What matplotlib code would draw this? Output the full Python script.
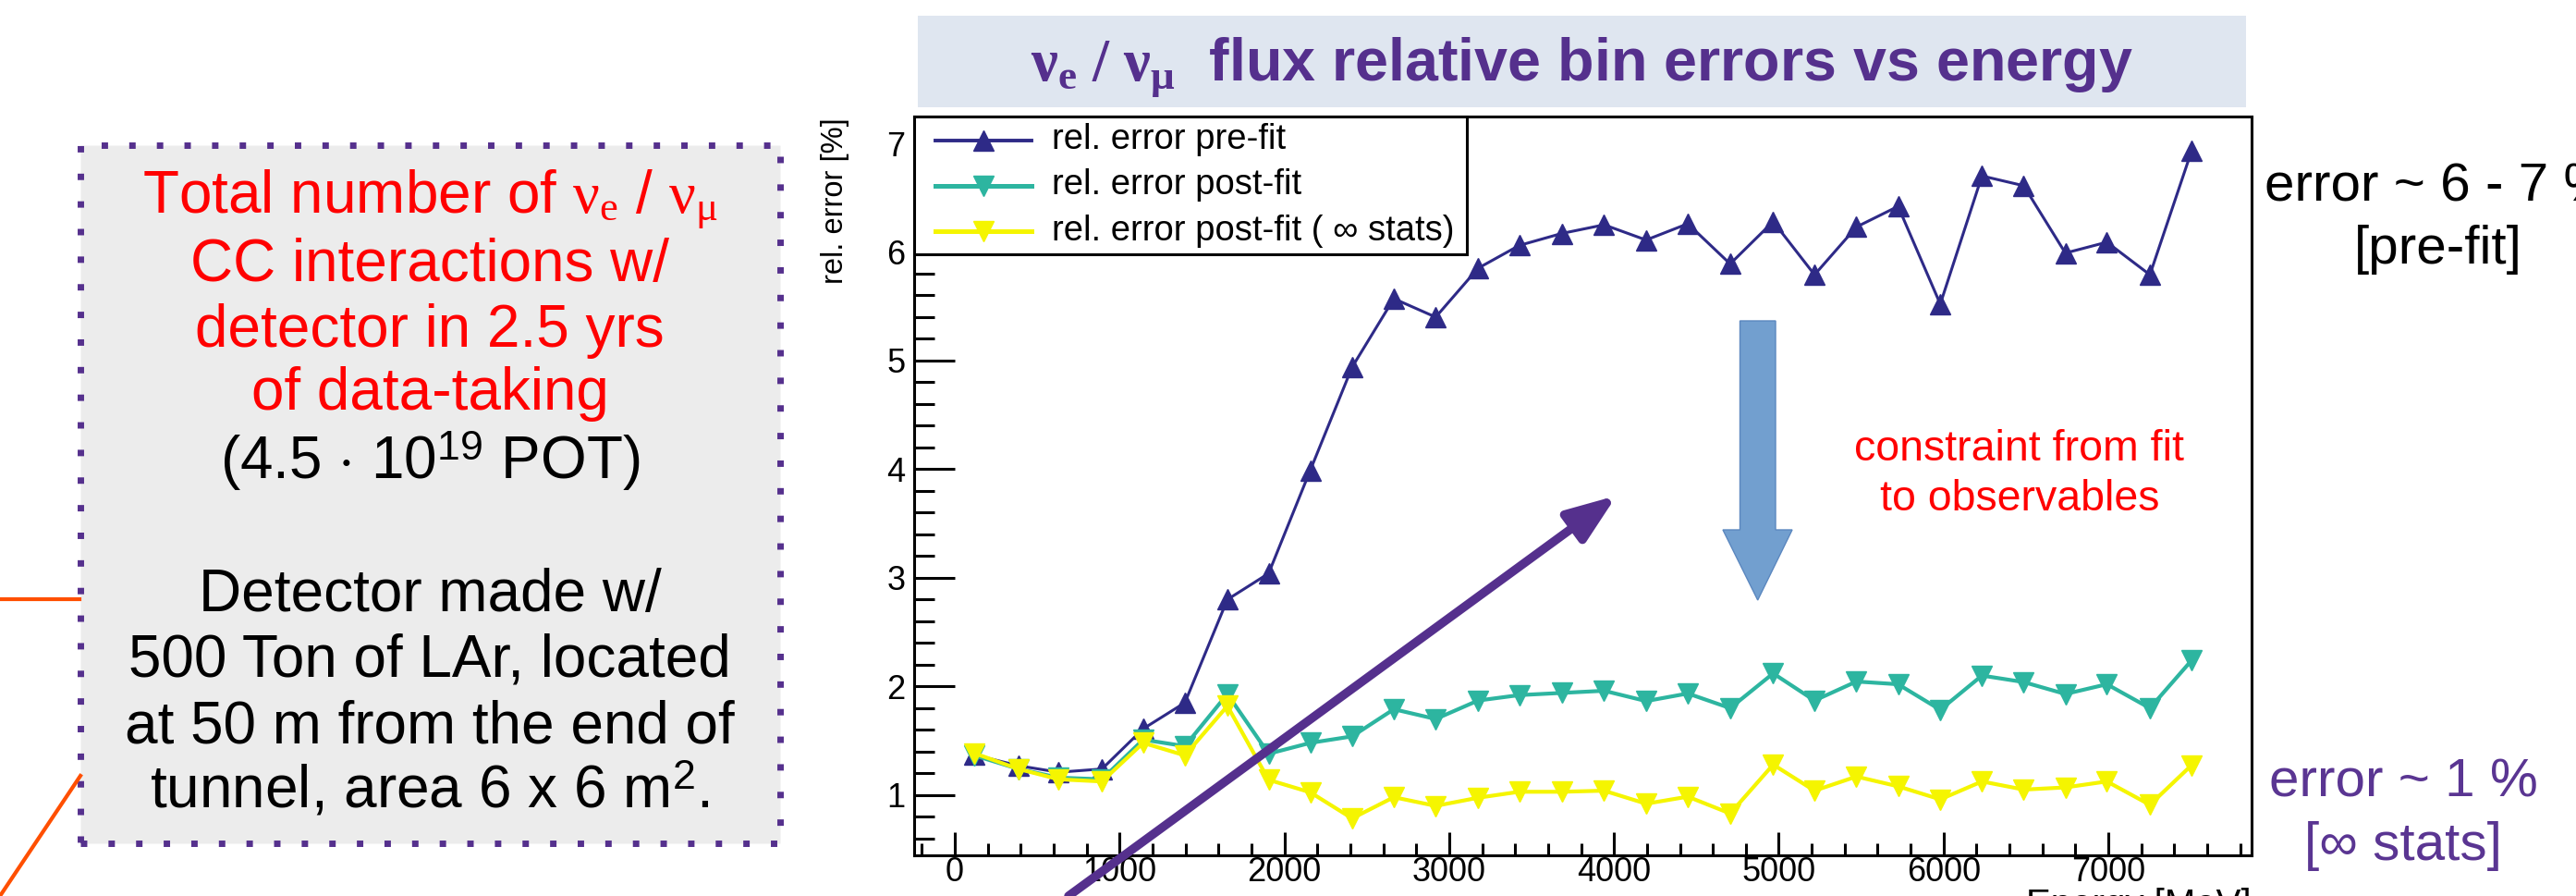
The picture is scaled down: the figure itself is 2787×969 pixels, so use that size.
import matplotlib
matplotlib.use('Agg')
import matplotlib.pyplot as plt
from matplotlib.patches import Rectangle, Polygon, FancyArrowPatch
from matplotlib.lines import Line2D
from matplotlib.ticker import MultipleLocator

plt.rcParams['font.family'] = ['Liberation Sans', 'DejaVu Sans']
plt.rcParams['mathtext.fontset'] = 'custom'
plt.rcParams['mathtext.rm'] = 'Liberation Serif'
plt.rcParams['mathtext.it'] = 'Liberation Serif:italic'
plt.rcParams['mathtext.bf'] = 'Liberation Serif:bold'
plt.rcParams['mathtext.sf'] = 'Liberation Sans'

# bin centres [MeV] and relative errors [%]
energy = [118, 386, 630, 893, 1143, 1396, 1654, 1904, 2157, 2411, 2664, 2918, 3175, 3425, 3682,
          3940, 4195, 4448, 4705, 4966, 5217, 5471, 5724, 5980, 6233, 6486, 6739, 6991, 7252, 7505]
err_prefit = [1.37, 1.27, 1.21, 1.24, 1.61, 1.85, 2.80, 3.04, 3.99, 4.94, 5.57, 5.40, 5.85, 6.06, 6.17,
              6.25, 6.11, 6.26, 5.89, 6.28, 5.79, 6.23, 6.42, 5.52, 6.70, 6.61, 5.99, 6.09, 5.79, 6.93]
err_postfit = [1.365, 1.24, 1.16, 1.145, 1.51, 1.45, 1.93, 1.38, 1.48, 1.54, 1.79, 1.70, 1.87, 1.92, 1.94,
               1.96, 1.865, 1.935, 1.80, 2.12, 1.87, 2.045, 2.02, 1.785, 2.10, 2.04, 1.93, 2.02, 1.80, 2.24]
err_postfit_inf = [1.385, 1.24, 1.145, 1.125, 1.48, 1.365, 1.82, 1.14, 1.025, 0.785, 0.98, 0.90, 0.975, 1.03, 1.03,
                   1.04, 0.92, 0.985, 0.83, 1.28, 1.04, 1.17, 1.08, 0.96, 1.125, 1.05, 1.07, 1.125, 0.91, 1.275]

series_labels = ['rel. error pre-fit', 'rel. error post-fit', 'rel. error post-fit ( \u221e stats)']

W, H = 2787, 969
fig = plt.figure(figsize=(W / 100, H / 100), dpi=100)
fig.patch.set_facecolor('white')


# pixel (from top-left) -> figure fraction
def fx(px):
    return px / W


def fy(py):
    return 1 - py / H


purple = '#55308d'
navy = '#2e2a87'
teal = '#2db5a0'
yellow = '#f5f500'

series = [(err_prefit, navy, '^', 2.2), (err_postfit, teal, 'v', 3), (err_postfit_inf, yellow, 'v', 3)]

# main plot frame
ax = fig.add_axes([fx(989), fy(925), (2436 - 989) / W, (925 - 126) / H])
for k, (vals, col, mk, lw) in enumerate(series):
    ax.plot(energy, vals, color=col, lw=lw, marker=mk, ms=16, mec=col, zorder=3 + k)

ax.set_xlim(-247, 7869)
ax.set_ylim(0.445, 7.247)
ax.xaxis.set_major_locator(MultipleLocator(1000))
ax.xaxis.set_minor_locator(MultipleLocator(200))
ax.yaxis.set_major_locator(MultipleLocator(1))
ax.yaxis.set_minor_locator(MultipleLocator(0.2))
ax.tick_params(axis='x', which='major', direction='in', length=18, width=2.2, labelsize=26, pad=0.5)
ax.tick_params(axis='x', which='minor', direction='in', length=9.5, width=2.2)
ax.tick_params(axis='y', which='major', direction='in', length=32, width=2.2, labelsize=26, pad=7)
ax.tick_params(axis='y', which='minor', direction='in', length=16, width=2.2)
for s in ax.spines.values():
    s.set_linewidth(2.2)

# ROOT-style legend box in the top-left corner of the frame
fig.add_artist(Rectangle((fx(989), fy(275)), (1587 - 989) / W, (275 - 126) / H, transform=fig.transFigure,
                         facecolor='white', edgecolor='black', lw=2.2, zorder=10))
for (vals, col, mk, lw), lab, yc in zip(series, series_labels, [151.7, 200.5, 250]):
    fig.add_artist(Line2D([fx(1012), fx(1116)], [fy(yc), fy(yc)], transform=fig.transFigure,
                          color=col, lw=lw + 0.6, zorder=11))
    fig.add_artist(Line2D([fx(1064)], [fy(yc)], transform=fig.transFigure, color=col, marker=mk,
                          ms=16, mec=col, zorder=12))
    fig.text(fx(1138), fy(yc + 9.5), lab, ha='left', va='baseline', fontsize=27.5, zorder=12)

fig.text(fx(903), fy(127), 'rel. error [%]', rotation=90, ha='center', va='top', fontsize=23.5)
fig.text(fx(2436), fy(990), 'Energy [MeV]', ha='right', va='baseline', fontsize=29)

# title banner
fig.add_artist(Rectangle((fx(993), fy(116)), (2430 - 993) / W, (116 - 17) / H,
                         transform=fig.transFigure, facecolor='#dfe6f0', edgecolor='none'))
fig.text(fx(1711), fy(87), r'$\mathbf{\nu_e\ /\ \nu_\mu}$  flux relative bin errors vs energy',
         ha='center', va='baseline', fontsize=46.5, fontweight='bold', color=purple)

# left info box
fig.add_artist(Rectangle((fx(87), fy(912)), (844 - 87) / W, (912 - 157) / H, transform=fig.transFigure,
                         facecolor='#ececec', edgecolor=purple, lw=5, linestyle=(0, (1, 3.3)),
                         capstyle='butt'))
box_lines = [
    (r'Total number of $\mathrm{\nu_e}$ / $\mathrm{\nu_\mu}$', 'red', 229),
    ('CC interactions w/', 'red', 304),
    ('detector in 2.5 yrs', 'red', 375),
    ('of data-taking', 'red', 443),
    (r'(4.5 $\cdot$ 10$^{\mathsf{19}}$ POT)', 'black', 518),
    ('Detector made w/', 'black', 661),
    ('500 Ton of LAr, located', 'black', 732),
    ('at 50 m from the end of', 'black', 803),
    (r'tunnel, area 6 x 6 m$^{\mathsf{2}}$.', 'black', 874),
]
for txt, col, yb in box_lines:
    fig.text(fx(465), fy(yb), txt, ha='center', va='baseline', fontsize=46, color=col)

# orange connector lines on the left edge
orange = '#ff4f00'
fig.add_artist(Line2D([fx(0), fx(86)], [fy(648), fy(648)], transform=fig.transFigure, color=orange, lw=3))
fig.add_artist(Line2D([fx(87), fx(0)], [fy(839), fy(969)], transform=fig.transFigure, color=orange, lw=3))

# purple pointer arrow
fig.add_artist(FancyArrowPatch((fx(1156), fy(969)), (fx(1749), fy(536)), transform=fig.transFigure,
                               arrowstyle='-|>,head_length=32,head_width=12', mutation_scale=1,
                               color=purple, lw=6.8, shrinkA=0, shrinkB=0, zorder=20))

# blue block arrow
arr = [(1882.5, 347), (1921, 347), (1921, 573), (1939, 573), (1901.7, 649),
       (1864, 573), (1882.5, 573)]
fig.add_artist(Polygon([(fx(x), fy(y)) for x, y in arr], closed=True, transform=fig.transFigure,
                       facecolor='#729fcf', edgecolor='#5b87bf', lw=1, zorder=20))

fig.text(fx(2185), fy(498), 'constraint from fit', ha='center', va='baseline', fontsize=33.5, color='red')
fig.text(fx(2185), fy(552), 'to observables', ha='center', va='baseline', fontsize=33.5, color='red')

# right-hand comments
fig.text(fx(2638), fy(218), 'error ~ 6 - 7 %', ha='center', va='baseline', fontsize=42, color='black')
fig.text(fx(2638), fy(285), '[pre-fit]', ha='center', va='baseline', fontsize=42, color='black')
fig.text(fx(2600), fy(862), 'error ~ 1 %', ha='center', va='baseline', fontsize=42, color='#5a3592')
fig.text(fx(2600), fy(930), '[\u221e stats]', ha='center', va='baseline', fontsize=42, color='#5a3592')

plt.savefig('out.png', dpi=100)
